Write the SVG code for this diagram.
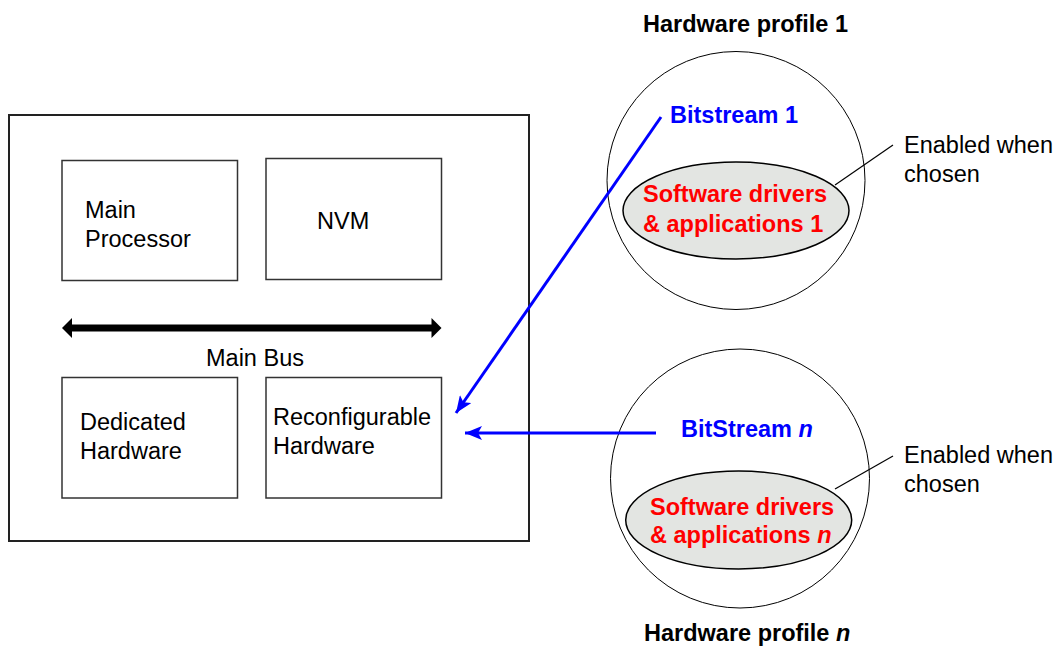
<svg xmlns="http://www.w3.org/2000/svg" width="1056" height="646" viewBox="0 0 1056 646">
<style>
text{font-family:"Liberation Sans",Arial,sans-serif;font-size:23.5px;fill:#000}
.b{font-weight:bold}
.blue{fill:#0000ff}
.red{fill:#ff0000}
.box{fill:#fff;stroke:#333;stroke-width:1.5}
.circ{fill:none;stroke:#000;stroke-width:1}
.ell{fill:#e3e5e2;stroke:#000;stroke-width:1.5}
.conn{stroke:#0000ff;stroke-width:3;fill:none}
.call{stroke:#000;stroke-width:1.2;fill:none}
</style>
<defs>
<marker id="ab" viewBox="0 0 17 14" refX="17" refY="7" markerWidth="17" markerHeight="14" markerUnits="userSpaceOnUse" orient="auto">
<path d="M0,0 L17,7 L0,14 L4,7 Z" fill="#0000ff"/>
</marker>
</defs>
<g id="system">
<rect x="9" y="115" width="520" height="426" fill="#fff" stroke="#222" stroke-width="2"/>
</g>
<g id="main-processor">
<rect class="box" x="62" y="160.5" width="175.5" height="120"/>
<text x="85" y="218">Main</text>
<text x="85" y="246.5">Processor</text>
</g>
<g id="nvm">
<rect class="box" x="266" y="158.5" width="175.5" height="121"/>
<text x="317" y="229">NVM</text>
</g>
<g id="main-bus">
<line x1="70" y1="328" x2="434" y2="328" stroke="#000" stroke-width="7"/>
<path d="M62,328 L72,318 L72,338 Z" fill="#000"/>
<path d="M441.5,328 L431.5,318 L431.5,338 Z" fill="#000"/>
<text x="206" y="366">Main Bus</text>
</g>
<g id="dedicated-hardware">
<rect class="box" x="62" y="377.5" width="175.5" height="120.5"/>
<text x="80" y="430">Dedicated</text>
<text x="80" y="459">Hardware</text>
</g>
<g id="reconfigurable-hardware">
<rect class="box" x="266" y="377.5" width="175.5" height="120.5"/>
<text x="273" y="425">Reconfigurable</text>
<text x="273" y="453.5">Hardware</text>
</g>
<g id="profile-1">
<text class="b" x="643" y="32">Hardware profile 1</text>
<circle class="circ" cx="736" cy="180.5" r="129"/>
<ellipse class="ell" cx="736" cy="210.5" rx="113" ry="48.5"/>
<text class="b blue" x="670" y="122.5">Bitstream 1</text>
<text class="b red" x="643" y="202">Software drivers</text>
<text class="b red" x="643" y="231.5">&amp; applications 1</text>
<line class="call" x1="893" y1="145" x2="835" y2="185"/>
<text x="904" y="153">Enabled when</text>
<text x="904" y="181.5">chosen</text>
</g>
<g id="profile-n">
<circle class="circ" cx="740" cy="478.5" r="129.5"/>
<ellipse class="ell" cx="738.7" cy="520" rx="113" ry="49"/>
<text class="b blue" x="681" y="436.5">BitStream <tspan font-style="italic">n</tspan></text>
<text class="b red" x="650" y="515">Software drivers</text>
<text class="b red" x="650" y="542.5">&amp; applications <tspan font-style="italic">n</tspan></text>
<line class="call" x1="893" y1="456" x2="835" y2="489"/>
<text x="904" y="462.5">Enabled when</text>
<text x="904" y="491.5">chosen</text>
<text class="b" x="644" y="641">Hardware profile <tspan font-style="italic">n</tspan></text>
</g>
<g id="connectors">
<line class="conn" x1="661" y1="117" x2="456" y2="413" marker-end="url(#ab)"/>
<line class="conn" x1="656" y1="433" x2="465" y2="433" marker-end="url(#ab)"/>
</g>
</svg>
